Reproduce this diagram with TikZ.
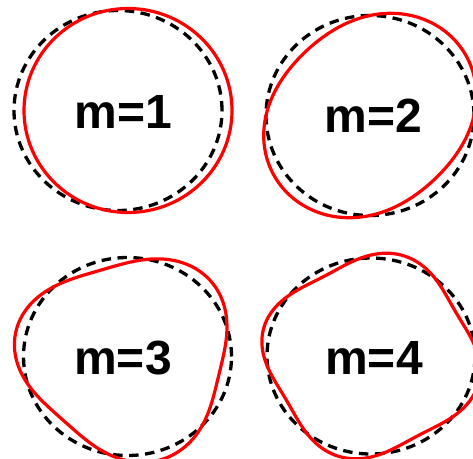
\documentclass[tikz,border=0pt]{standalone}
\usepackage{fontspec}
\setmainfont{Liberation Sans}
\begin{document}
\begin{tikzpicture}[x=1pt,y=-1pt,
  refcirc/.style={black, line width=3.3pt, dash pattern=on 9.5pt off 6.5pt},
  pert/.style={red, line width=3.2pt, line join=round},
  lbl/.style={font=\fontsize{48}{48}\selectfont\bfseries, inner sep=0pt}]
\useasboundingbox (0,0) rectangle (473,458);
\clip (0,0) rectangle (473,458);
% panel 1
\draw[refcirc] (118,110.5) ellipse [x radius=104pt, y radius=100pt];
\draw[pert] (128,110.5) ellipse [x radius=104pt, y radius=102pt];
\node[lbl] (t1) at (123.5,112) {m=1};
% panel 2
\draw[refcirc] (370,115.5) ellipse [x radius=104pt, y radius=100pt];
\draw[pert] plot[domain=0:360,samples=361]
  ({370+104*(1+0.11*cos(2*(\x-45)))*cos(\x)},{115.5-100*(1+0.11*cos(2*(\x-45)))*sin(\x)}) -- cycle;
\node[lbl] (t2) at (373.5,116) {m=2};
% panel 3
\draw[refcirc] (127.5,356.5) ellipse [x radius=104pt, y radius=99pt];
\draw[pert] plot[domain=0:360,samples=361]
  ({127.5+104*(1+0.1*cos(3*(\x-167)))*cos(\x)},{355.5-99*(1+0.1*cos(3*(\x-167)))*sin(\x)}) -- cycle;
\node[lbl] (t3) at (123,358) {m=3};
% panel 4
\draw[refcirc] (371,356) ellipse [x radius=104pt, y radius=98pt];
\draw[pert] plot[domain=0:360,samples=361]
  ({371+104*(1+0.07*cos(4*(\x-74)))*cos(\x)},{356-98*(1+0.07*cos(4*(\x-74)))*sin(\x)}) -- cycle;
\node[lbl] (t4) at (374,358) {m=4};
\end{tikzpicture}
\end{document}
